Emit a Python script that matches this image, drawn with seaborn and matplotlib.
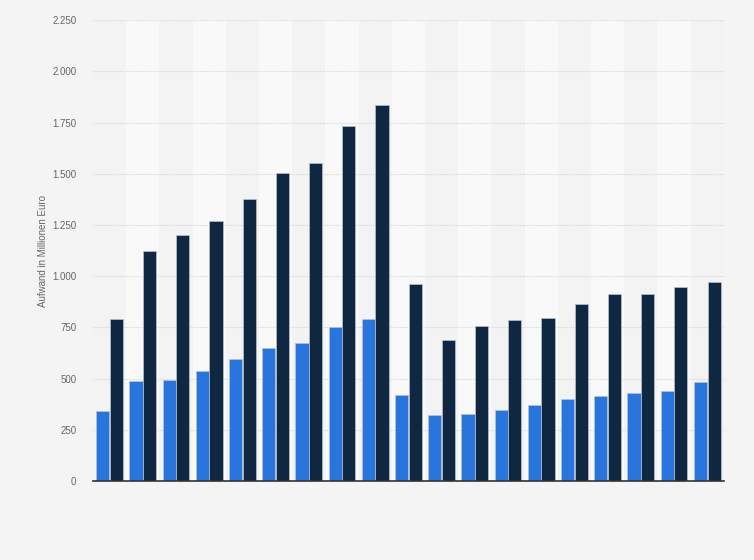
import matplotlib
matplotlib.use("Agg")
import matplotlib.pyplot as plt
import matplotlib.ticker as mticker
import seaborn as sns
import pandas as pd

categories = [f"K{i}" for i in range(1, 20)]
series_names = ["Serie A", "Serie B"]
values_a = [340, 490, 495, 535, 595, 650, 675, 750, 790, 420, 320, 325, 345, 370, 400, 415, 428, 440, 485]
values_b = [790, 1125, 1200, 1270, 1375, 1505, 1555, 1735, 1835, 960, 690, 755, 785, 795, 865, 915, 915, 945, 970]
colors = ["#2876dd", "#0f2741"]
y_ticks = [0, 250, 500, 750, 1000, 1250, 1500, 1750, 2000, 2250]

df = pd.DataFrame({
    "Kategorie": categories * 2,
    "Serie": [series_names[0]] * len(categories) + [series_names[1]] * len(categories),
    "Wert": values_a + values_b,
})

sns.set_style("white")
plt.rcParams["font.family"] = ["Liberation Sans", "DejaVu Sans"]

fig = plt.figure(figsize=(7.54, 5.6), dpi=100, facecolor="#f4f4f4")
ax = fig.add_axes([0.1233, 0.141, 0.8367, 0.823])
ax.set_facecolor("#f3f3f3")

for i in range(len(categories)):
    if i % 2 == 1:
        ax.axvspan(i - 0.5, i + 0.5, color="#f9f9f9", zorder=0, lw=0)

sns.barplot(data=df, x="Kategorie", y="Wert", hue="Serie", palette=colors,
            saturation=1, width=0.82, gap=0.04, ax=ax, legend=False, zorder=3,
            edgecolor="#b8c4d0", linewidth=0.5)

ax.set_xlim(-0.5, len(categories) - 0.5)
ax.set_ylim(0, 2250)
ax.set_yticks(y_ticks)
ax.yaxis.set_major_formatter(mticker.FuncFormatter(lambda v, p: f"{int(v):,}".replace(",", ".")))
ax.grid(axis="y", color="#d6d6d6", linestyle=(0, (1, 1)), linewidth=0.8, zorder=1)
ax.set_axisbelow(True)
ax.tick_params(axis="y", length=0, labelsize=7, labelcolor="#666666", pad=12)
ax.tick_params(axis="x", length=0, labelbottom=False)
ax.set_xlabel("")
ax.set_ylabel("Aufwand in Millionen Euro", fontsize=7, color="#666666", labelpad=3)
for s in ["top", "right", "left"]:
    ax.spines[s].set_visible(False)
ax.spines["bottom"].set_color("#333333")
ax.spines["bottom"].set_linewidth(1.2)
ax.spines["bottom"].set_zorder(5)

fig.savefig("out.png", dpi=100, facecolor=fig.get_facecolor())
